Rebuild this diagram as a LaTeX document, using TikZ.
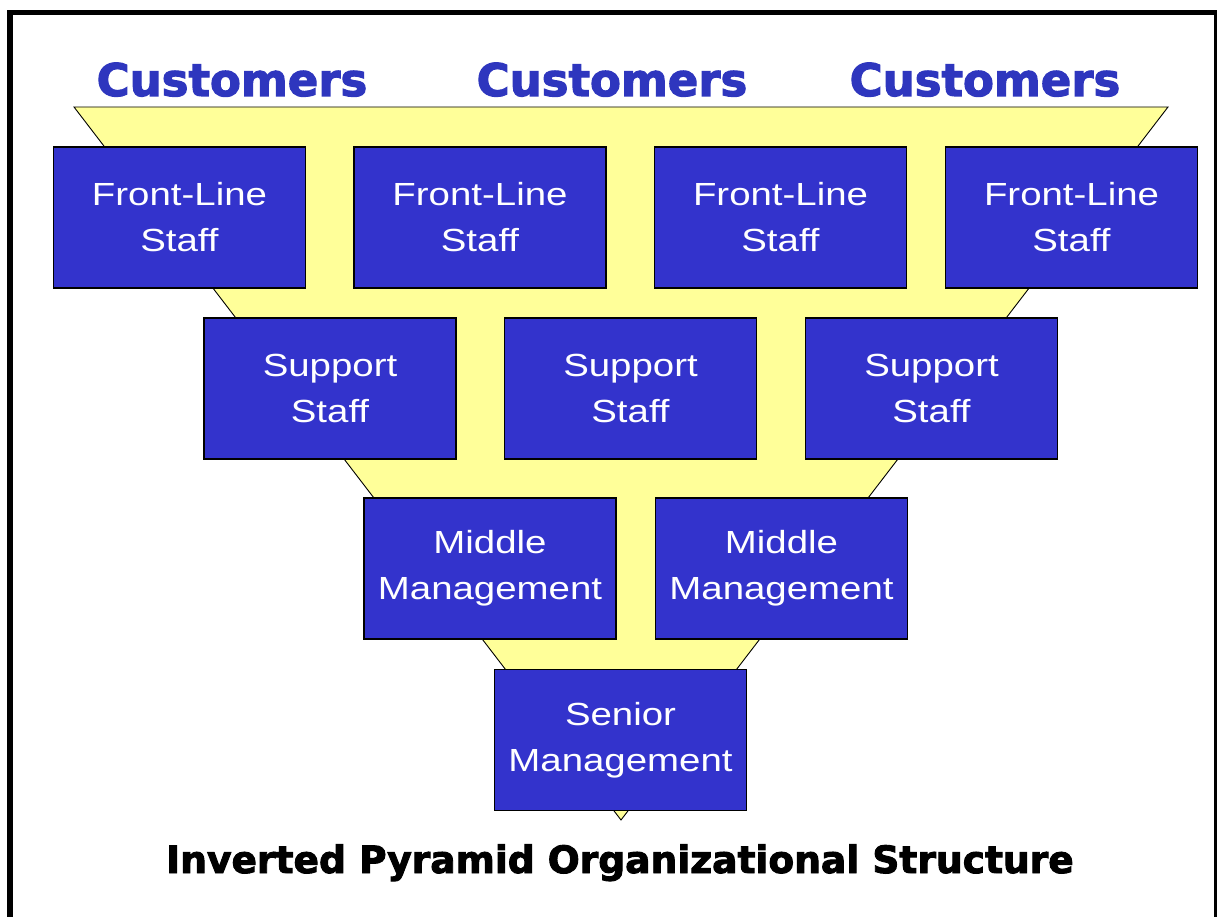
\documentclass[tikz,border=0pt]{standalone}
\usepackage{fontspec}
\setmainfont{Liberation Sans}
\newfontfamily\boxfont[FakeStretch=1.2]{Liberation Sans}
\newfontfamily\heavyfont{DejaVu Sans}[BoldFont={DejaVu Sans Bold}, BoldFeatures={FakeBold=2.5}]
\definecolor{boxblue}{RGB}{51,51,204}
\definecolor{headblue}{RGB}{46,54,190}
\definecolor{funnel}{RGB}{255,255,153}
\tikzset{
  unit/.style={draw=black, line width=1.2pt, fill=boxblue, text=white,
    minimum width=252pt, minimum height=141pt, inner sep=0pt,
    align=center, font=\boxfont\fontsize{32}{46}\selectfont},
  crowd/.style={text=headblue, inner sep=0pt, anchor=base,
    font=\heavyfont\bfseries\fontsize{45}{54}\selectfont},
  caption/.style={text=black, inner sep=0pt, anchor=base,
    font=\heavyfont\bfseries\fontsize{37.6}{45}\selectfont},
  frameline/.style={draw=black}
}
\begin{document}
\begin{tikzpicture}[x=1pt, y=-1pt]
\useasboundingbox[fill=white] (0,0) rectangle (1218,917);

% page frame: left, top and right edges
\coordinate (fl) at (10,917);
\coordinate (ftl) at (10,12.5);
\coordinate (ftr) at (1215.5,12.5);
\coordinate (fr) at (1215.5,917);
\draw[frameline, line width=6pt] (fl) -- (10,10);
\draw[frameline, line width=5pt] (7,12.5) -- (1217,12.5);
\draw[frameline, line width=3pt] (ftr) -- (fr);

% the inverted pyramid behind the units
\coordinate (pl) at (74,107);
\coordinate (pr) at (1168,107);
\coordinate (pt) at (621,820);
\draw[fill=funnel, draw=black, line width=0.9pt, line join=miter] (pl) -- (pr) -- (pt) -- cycle;

% customers along the top
\node[crowd] (c1) at (232,96) {Customers};
\node[crowd] (c2) at (612,96) {Customers};
\node[crowd] (c3) at (985,96) {Customers};

% front-line row
\node[unit] (f1) at (179.5,217.5) {Front-Line\\Staff};
\node[unit] (f2) at (480,217.5) {Front-Line\\Staff};
\node[unit] (f3) at (780.5,217.5) {Front-Line\\Staff};
\node[unit] (f4) at (1071.5,217.5) {Front-Line\\Staff};

% support row
\node[unit] (s1) at (330,388.5) {Support\\Staff};
\node[unit] (s2) at (630.5,388.5) {Support\\Staff};
\node[unit] (s3) at (931.5,388.5) {Support\\Staff};

% middle management row
\node[unit] (m1) at (490,568.5) {Middle\\Management};
\node[unit] (m2) at (781.5,568.5) {Middle\\Management};

% senior management
\node[unit] (sm) at (620.5,740) {Senior\\Management};

% caption
\node[caption] (title) at (620,873) {Inverted Pyramid Organizational Structure};
\end{tikzpicture}
\end{document}
